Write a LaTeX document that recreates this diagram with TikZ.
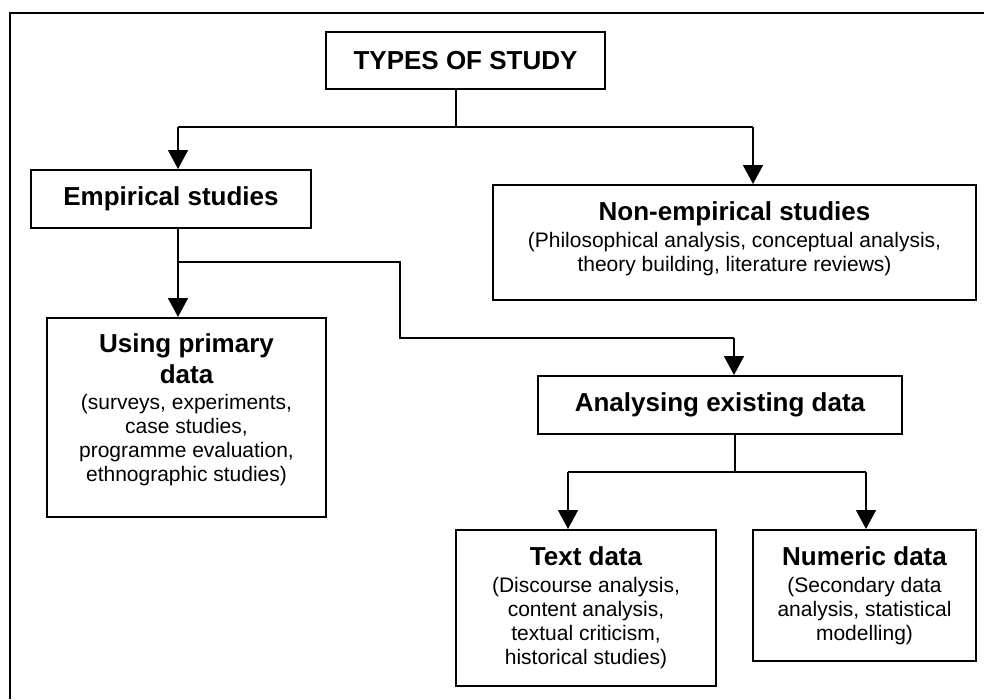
\documentclass[tikz,border=0pt]{standalone}
\usepackage{fontspec}
\setmainfont{Liberation Sans}
\usetikzlibrary{arrows.meta}

% heading and body fonts of the boxes
\newcommand{\hdfont}{\fontsize{26}{30}\selectfont\bfseries}
\newcommand{\bdfont}{\fontsize{21}{24}\selectfont}
% centred block of lines, drawn a little above the middle of its box
\newcommand{\liftedlines}[3]{%
  \raisebox{#1}[\height][\depth]{\parbox{#2}{\centering\bdfont #3}}}

\begin{document}
\begin{tikzpicture}[x=1pt,y=-1pt,
  box/.style={draw, line width=2pt, rectangle, inner sep=0pt, align=center, font=\bdfont},
  link/.style={line width=1.5pt},
  arr/.style={line width=1.5pt, -{Triangle[width=20pt,length=19pt]}}]
\useasboundingbox (0,0) rectangle (984,699);

% open frame: left and top edges only
\draw[line width=2pt] (10,699) -- (10,12.5) -- (984,12.5);

% boxes
\node[box, minimum width=279pt, minimum height=57pt] (types) at (465.5,60.5)
  {{\hdfont TYPES OF STUDY}};
\node[box, minimum width=280pt, minimum height=58pt] (emp) at (171,199)
  {{\hdfont Empirical studies}};
\node[box, minimum width=483pt, minimum height=115pt] (nonemp) at (734.5,242.5)
  {\liftedlines{4pt}{470pt}{{\hdfont Non-empirical studies}\\[3pt]
   (Philosophical analysis, conceptual analysis,\\
   theory building, literature reviews)}};
\node[box, minimum width=279pt, minimum height=199pt] (using) at (186.5,417.5)
  {\liftedlines{8pt}{270pt}{{\hdfont Using primary}\\[6pt]
   {\hdfont data}\\[2pt]
   (surveys, experiments,\\
   case studies,\\
   programme evaluation,\\
   ethnographic studies)}};
\node[box, minimum width=364pt, minimum height=58pt] (anal) at (720,405)
  {{\hdfont Analysing existing data}};
\node[box, minimum width=260pt, minimum height=156pt] (textd) at (586,608)
  {{\hdfont Text data}\\[3pt]
   (Discourse analysis,\\
   content analysis,\\
   textual criticism,\\
   historical studies)};
\node[box, minimum width=223pt, minimum height=131pt] (numd) at (864.5,595.5)
  {{\hdfont Numeric data}\\[3pt]
   (Secondary data\\
   analysis, statistical\\
   modelling)};

% junction points of the connectors
\coordinate (tj) at (456,127);
\coordinate (tl) at (178,127);
\coordinate (tr) at (753,127);
\coordinate (ej) at (178,262);
\coordinate (e1) at (400,262);
\coordinate (e2) at (400,338);
\coordinate (e3) at (734,338);
\coordinate (aj) at (735,472);
\coordinate (al) at (568,472);
\coordinate (ar) at (866,472);

% TYPES OF STUDY -> empirical / non-empirical
\draw[link] (types.south -| tj) -- (tj);
\draw[link] (tl) -- (tr);
\draw[arr] (tl) -- (tl |- emp.north);
\draw[arr] (tr) -- (tr |- nonemp.north);

% empirical -> primary data / existing data
\draw[link] (emp.south -| ej) -- (ej);
\draw[arr] (ej) -- (ej |- using.north);
\draw[link] (ej) -- (e1) -- (e2) -- (e3);
\draw[arr] (e3) -- (e3 |- anal.north);

% existing data -> text / numeric
\draw[link] (anal.south -| aj) -- (aj);
\draw[link] (al) -- (ar);
\draw[arr] (al) -- (al |- textd.north);
\draw[arr] (ar) -- (ar |- numd.north);
\end{tikzpicture}
\end{document}
